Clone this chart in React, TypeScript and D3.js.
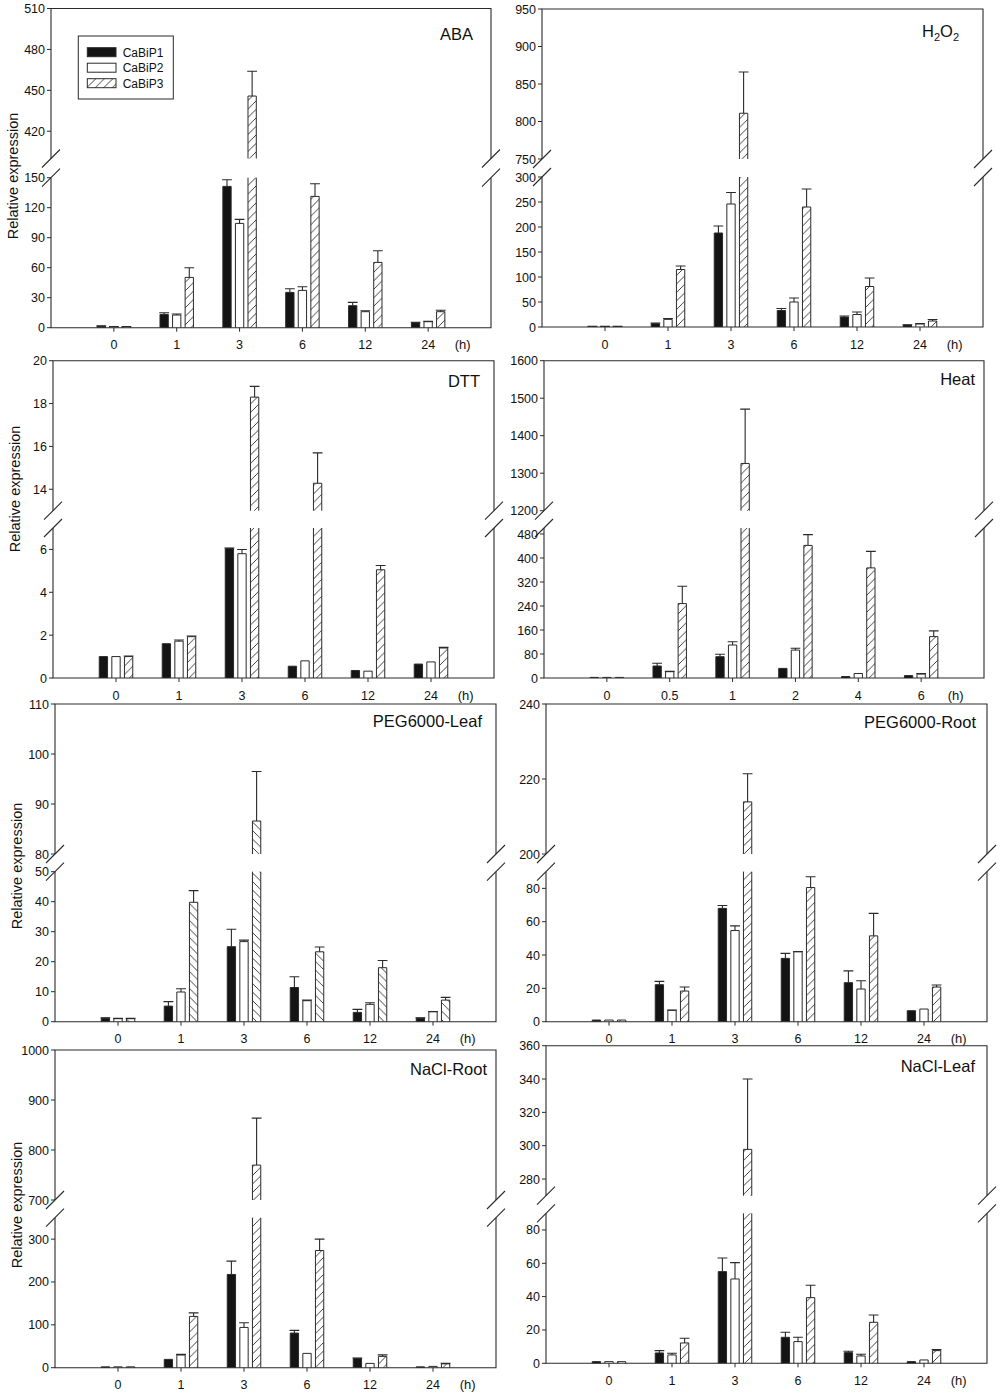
import * as d3 from 'd3';

// series and time points
const SERIES = ['CaBiP1', 'CaBiP2', 'CaBiP3'];
const HOURS = ['0', '1', '3', '6', '12', '24'];
const HEAT_HOURS = ['0', '0.5', '1', '2', '4', '6'];

// means / error bars per panel, one row per series (CaBiP1, CaBiP2, CaBiP3)
const abaMeans = [
  [1.5, 13.3, 141.3, 35.3, 22, 5],
  [1, 12.7, 104.3, 37.3, 16, 6],
  [1, 50.3, 445.8, 131.3, 65.3, 16],
];
const abaErrors = [
  [0.3, 1.7, 6.7, 3.7, 3.3, 0.5],
  [0.2, 1, 4, 3.7, 1, 0.3],
  [0.2, 9.7, 18.2, 12.7, 11.7, 1.5],
];

const h2o2Means = [
  [1, 6.7, 188, 33, 20, 4],
  [1, 15.3, 246, 50, 25, 6],
  [1, 115, 811, 240, 81, 12],
];
const h2o2Errors = [
  [0.2, 1.3, 14, 4, 2, 0.5],
  [0.2, 1.7, 23, 8, 5, 1],
  [0.2, 7, 55, 36, 17, 3],
];

const dttMeans = [
  [1.0, 1.6, 6.05, 0.55, 0.35, 0.65],
  [1.0, 1.72, 5.8, 0.8, 0.32, 0.75],
  [1.0, 1.93, 18.3, 14.28, 5.05, 1.4],
];
const dttErrors = [
  [0, 0, 0.02, 0, 0, 0],
  [0, 0.05, 0.2, 0, 0, 0],
  [0.03, 0.03, 0.5, 1.42, 0.2, 0.03],
];

const heatMeans = [
  [2, 40, 71, 32, 5, 8],
  [2, 21, 110, 93, 15, 13],
  [2, 248, 1326, 442, 367, 138],
];
const heatErrors = [
  [0, 9, 8, 0, 0, 0],
  [0, 1, 11, 6, 0, 2],
  [0, 58, 145, 36, 55, 19],
];

const pegLeafMeans = [
  [1.2, 5.2, 25, 11.4, 3.1, 1.2],
  [1, 9.9, 26.7, 7, 5.8, 3.3],
  [1, 39.8, 86.6, 23.3, 18, 7.2],
];
const pegLeafErrors = [
  [0.1, 1.5, 5.8, 3.6, 1, 0.1],
  [0.1, 1.1, 0.5, 0.2, 0.5, 0.1],
  [0.1, 3.9, 9.9, 1.6, 2.4, 0.9],
];

const pegRootMeans = [
  [1, 22.2, 68, 38, 23.4, 6.6],
  [1, 6.8, 54.7, 41.9, 19.6, 7.6],
  [1, 18.4, 213.9, 80.5, 51.5, 20.8],
];
const pegRootErrors = [
  [0, 2, 1.7, 3, 7.1, 0],
  [0, 0.2, 2.8, 0.2, 5, 0],
  [0, 2.4, 7.5, 6.5, 13.5, 1.2],
];

const naclRootMeans = [
  [2, 19.4, 217.6, 80.8, 21.8, 2],
  [2, 29.5, 94, 33.4, 10, 3],
  [2, 119.7, 769.8, 273.5, 26.4, 9],
];
const naclRootErrors = [
  [0, 0, 31, 6.2, 0.7, 0],
  [0, 1.5, 11, 0, 0, 0],
  [0, 8.3, 94, 26.5, 3.6, 1],
];

const naclLeafMeans = [
  [1, 6.2, 55, 15.6, 6.4, 1],
  [1, 5, 50.6, 13, 4.4, 2],
  [1, 12.2, 297.8, 39.4, 24.6, 7.6],
];
const naclLeafErrors = [
  [0, 1.4, 8.2, 3, 0.8, 0],
  [0, 1, 9.8, 2.6, 1, 0],
  [0, 2.8, 42.2, 7.4, 4.4, 0.6],
];

const FONT = '"Liberation Sans", Arial, sans-serif';
const LINE = '#2a2a2a';
const SEG_H = 150;
const HATCH = 8.5;

type Panel = {
  title: string;
  labels: string[];
  means: number[][];
  errors: number[][];
  upper: [number, number];
  lower: [number, number];
  upperTicks: number[];
  lowerTicks: number[];
  x0: number;
  x1: number;
  top: number;
  bottom: number;
  titleDx: number;
  titleDy: number;
  yTitle?: number;
  back?: boolean;
  legend?: boolean;
};

const panels: Panel[] = [
  {
    title: 'ABA', labels: HOURS, means: abaMeans, errors: abaErrors,
    upper: [400, 510], lower: [0, 150],
    upperTicks: [420, 450, 480, 510], lowerTicks: [0, 30, 60, 90, 120, 150],
    x0: 51, x1: 491, top: 8.5, bottom: 327.7, titleDx: 18, titleDy: 31, yTitle: 176, legend: true,
  },
  {
    title: 'H2O2', labels: HOURS, means: h2o2Means, errors: h2o2Errors,
    upper: [750, 950], lower: [0, 300],
    upperTicks: [750, 800, 850, 900, 950], lowerTicks: [0, 50, 100, 150, 200, 250, 300],
    x0: 542, x1: 983, top: 9, bottom: 327, titleDx: 24, titleDy: 28,
  },
  {
    title: 'DTT', labels: HOURS, means: dttMeans, errors: dttErrors,
    upper: [13, 20], lower: [0, 7],
    upperTicks: [14, 16, 18, 20], lowerTicks: [0, 2, 4, 6],
    x0: 53, x1: 494, top: 360.7, bottom: 678, titleDx: 14, titleDy: 26, yTitle: 489,
  },
  {
    title: 'Heat', labels: HEAT_HOURS, means: heatMeans, errors: heatErrors,
    upper: [1200, 1600], lower: [0, 500],
    upperTicks: [1200, 1300, 1400, 1500, 1600], lowerTicks: [0, 80, 160, 240, 320, 400, 480],
    x0: 544, x1: 984, top: 360.7, bottom: 678, titleDx: 9, titleDy: 24,
  },
  {
    title: 'PEG6000-Leaf', labels: HOURS, means: pegLeafMeans, errors: pegLeafErrors,
    upper: [80, 110], lower: [0, 50],
    upperTicks: [80, 90, 100, 110], lowerTicks: [0, 10, 20, 30, 40, 50],
    x0: 55, x1: 496, top: 704, bottom: 1021.7, titleDx: 14, titleDy: 23, yTitle: 866, back: true,
  },
  {
    title: 'PEG6000-Root', labels: HOURS, means: pegRootMeans, errors: pegRootErrors,
    upper: [200, 240], lower: [0, 90],
    upperTicks: [200, 220, 240], lowerTicks: [0, 20, 40, 60, 80],
    x0: 546, x1: 987, top: 704, bottom: 1021.7, titleDx: 11, titleDy: 24,
  },
  {
    title: 'NaCl-Root', labels: HOURS, means: naclRootMeans, errors: naclRootErrors,
    upper: [700, 1000], lower: [0, 350],
    upperTicks: [700, 800, 900, 1000], lowerTicks: [0, 100, 200, 300],
    x0: 55, x1: 496, top: 1050, bottom: 1367.7, titleDx: 9, titleDy: 25, yTitle: 1205,
  },
  {
    title: 'NaCl-Leaf', labels: HOURS, means: naclLeafMeans, errors: naclLeafErrors,
    upper: [270, 360], lower: [0, 90],
    upperTicks: [280, 300, 320, 340, 360], lowerTicks: [0, 20, 40, 60, 80],
    x0: 546, x1: 987, top: 1045.7, bottom: 1363.3, titleDx: 12, titleDy: 26,
  },
];

function Title({ text, x, y }: { text: string; x: number; y: number }) {
  if (text === 'H2O2') {
    return (
      <text x={x} y={y} textAnchor="end" fontSize={16.5} fontFamily={FONT} fill="#111">
        H<tspan fontSize={11} dy={4}>2</tspan>
        <tspan dy={-4}>O</tspan>
        <tspan fontSize={11} dy={4}>2</tspan>
      </text>
    );
  }
  return (
    <text x={x} y={y} textAnchor="end" fontSize={16.5} fontFamily={FONT} fill="#111">
      {text}
    </text>
  );
}

function BrokenBarPanel({ p, idx }: { p: Panel; idx: number }) {
  const x = d3.scaleLinear().domain([-1, 6]).range([p.x0, p.x1]);
  const step = x(1) - x(0);
  const inner = d3.scaleBand<string>().domain(SERIES).range([-0.3 * step, 0.3 * step]);
  const barW = inner.bandwidth() * 0.66;

  const upTop = p.top;
  const upBot = p.top + SEG_H;
  const loBot = p.bottom;
  const loTop = p.bottom - SEG_H;
  const yU = d3.scaleLinear().domain(p.upper).range([upBot, upTop]);
  const yL = d3.scaleLinear().domain(p.lower).range([loBot, loTop]);

  const hatchId = `hatch-${idx}`;
  const fills = ['#141414', '#ffffff', `url(#${hatchId})`];

  const marks: JSX.Element[] = [];
  SERIES.forEach((s, si) => {
    p.labels.forEach((_, ci) => {
      const v = p.means[si][ci];
      const e = p.errors[si][ci];
      const cx = x(ci) + (inner(s) ?? 0) + inner.bandwidth() / 2;
      const l = cx - barW / 2;
      const r = cx + barW / 2;
      const key = `${si}-${ci}`;

      // lower segment
      const clipped = v > p.lower[1];
      const tL = yL(Math.min(v, p.lower[1]));
      marks.push(<rect key={`lf${key}`} x={l} y={tL} width={barW} height={loBot - tL} fill={fills[si]} />);
      marks.push(
        <path
          key={`lo${key}`}
          d={clipped ? `M${l},${loBot}V${loTop}M${r},${loTop}V${loBot}` : `M${l},${loBot}V${tL}H${r}V${loBot}`}
          fill="none"
          stroke={LINE}
          strokeWidth={1}
        />
      );

      // upper segment
      const inUpper = v > p.upper[0];
      if (inUpper) {
        const tU = yU(v);
        marks.push(<rect key={`uf${key}`} x={l} y={tU} width={barW} height={upBot - tU} fill={fills[si]} />);
        marks.push(
          <path key={`uo${key}`} d={`M${l},${upBot}V${tU}H${r}V${upBot}`} fill="none" stroke={LINE} strokeWidth={1} />
        );
      }

      // error bar (upper half only)
      if (e > 0) {
        const ys = inUpper ? yU : yL;
        const capW = barW + 1.5;
        marks.push(
          <path
            key={`e${key}`}
            d={`M${cx},${ys(v)}V${ys(v + e)}M${cx - capW / 2},${ys(v + e)}H${cx + capW / 2}`}
            fill="none"
            stroke={LINE}
            strokeWidth={1.1}
          />
        );
      }
    });
  });

  const slash = (sx: number, sy: number) => `M${sx - 9},${sy + 9}L${sx + 9},${sy - 9}`;
  const h = HATCH;

  return (
    <g>
      <defs>
        <pattern id={hatchId} patternUnits="userSpaceOnUse" width={h} height={h}>
          <rect width={h} height={h} fill="#fff" />
          {p.back ? (
            <path d={`M0,0L${h},${h}M-1,${h - 1}L1,${h + 1}M${h - 1},-1L${h + 1},1`} stroke={LINE} strokeWidth={0.9} />
          ) : (
            <path d={`M0,${h}L${h},0M-1,1L1,-1M${h - 1},${h + 1}L${h + 1},${h - 1}`} stroke={LINE} strokeWidth={0.9} />
          )}
        </pattern>
      </defs>

      {marks}

      {/* frame with broken sides */}
      <path
        d={`M${p.x0},${upBot}V${upTop}H${p.x1}V${upBot}M${p.x0},${loTop}V${loBot}H${p.x1}V${loTop}`}
        fill="none"
        stroke={LINE}
        strokeWidth={1.1}
      />
      <path
        d={[slash(p.x0, upBot), slash(p.x0, loTop), slash(p.x1, upBot), slash(p.x1, loTop)].join('')}
        fill="none"
        stroke={LINE}
        strokeWidth={1.1}
      />

      {/* y ticks */}
      {p.upperTicks.map((t) => (
        <g key={`ut${t}`}>
          <line x1={p.x0 - 4} x2={p.x0} y1={yU(t)} y2={yU(t)} stroke={LINE} />
          <text x={p.x0 - 6} y={yU(t)} dy="0.36em" textAnchor="end" fontSize={12.5} fontFamily={FONT} fill="#111">
            {t}
          </text>
        </g>
      ))}
      {p.lowerTicks.map((t) => (
        <g key={`lt${t}`}>
          <line x1={p.x0 - 4} x2={p.x0} y1={yL(t)} y2={yL(t)} stroke={LINE} />
          <text x={p.x0 - 6} y={yL(t)} dy="0.36em" textAnchor="end" fontSize={12.5} fontFamily={FONT} fill="#111">
            {t}
          </text>
        </g>
      ))}

      {/* x ticks */}
      {p.labels.map((lab, ci) => (
        <g key={`xt${ci}`}>
          <line x1={x(ci)} x2={x(ci)} y1={loBot} y2={loBot + 4} stroke={LINE} />
          <text x={x(ci)} y={loBot + 21.5} textAnchor="middle" fontSize={12.5} fontFamily={FONT} fill="#111">
            {lab}
          </text>
        </g>
      ))}
      <text x={x(5.55)} y={loBot + 21.5} textAnchor="middle" fontSize={13} fontFamily={FONT} fill="#111">
        (h)
      </text>

      <Title text={p.title} x={p.x1 - p.titleDx} y={p.top + p.titleDy} />

      {p.yTitle !== undefined && (
        <text
          transform={`translate(${p.x0 - 38},${p.yTitle}) rotate(-90)`}
          textAnchor="middle"
          dy="0.35em"
          fontSize={14.5}
          fontFamily={FONT}
          fill="#111"
        >
          Relative expression
        </text>
      )}

      {p.legend && (
        <g transform={`translate(${p.x0 + 27.3},${p.top + 27.5})`}>
          <rect width={95} height={63} fill="#fff" stroke={LINE} strokeWidth={1} />
          {SERIES.map((s, si) => (
            <g key={s} transform={`translate(9,${11.7 + si * 15.5})`}>
              <rect width={28.7} height={9} fill={fills[si]} stroke={LINE} strokeWidth={1} />
              <text x={35.4} y={9} fontSize={12} fontFamily={FONT} fill="#111">
                {s}
              </text>
            </g>
          ))}
        </g>
      )}
    </g>
  );
}

export default function App() {
  return (
    <div style={{ position: 'absolute', left: 0, top: 0 }}>
      <svg width={1000} height={1399} style={{ display: 'block', background: '#fff' }}>
        {panels.map((p, i) => (
          <BrokenBarPanel key={p.title} p={p} idx={i} />
        ))}
      </svg>
    </div>
  );
}
